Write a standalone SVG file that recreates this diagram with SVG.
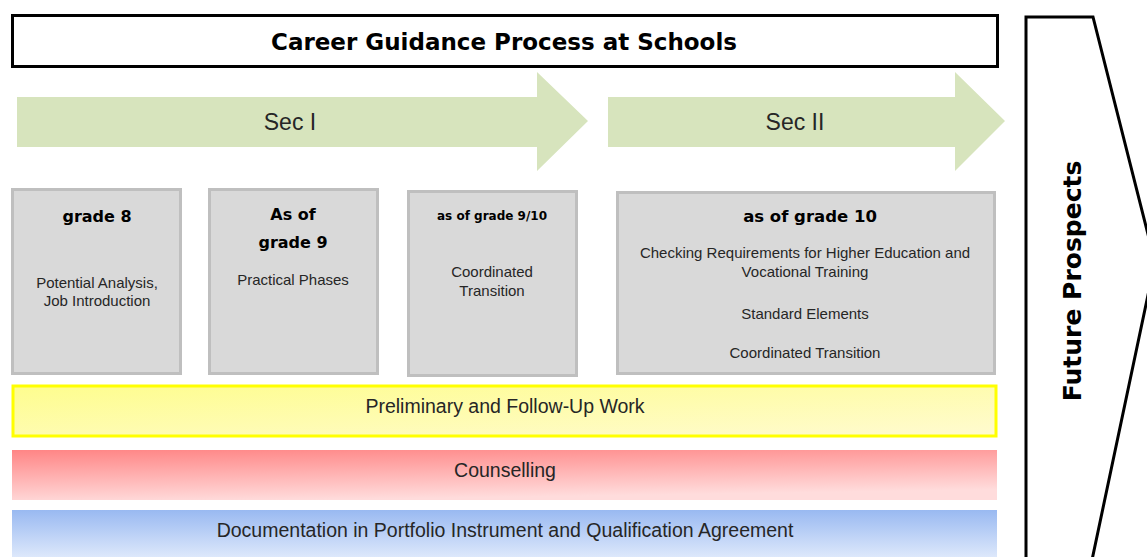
<svg xmlns="http://www.w3.org/2000/svg" width="1147" height="557" viewBox="0 0 1147 557">
<defs>
<linearGradient id="gYellow" x1="0" y1="0" x2="1" y2="1">
<stop offset="0" stop-color="#fefd8e"/>
<stop offset="1" stop-color="#fffbd0"/>
</linearGradient>
<linearGradient id="gRed" x1="0" y1="0" x2="0.3" y2="1">
<stop offset="0" stop-color="#ff8585"/>
<stop offset="1" stop-color="#ffdcdc"/>
</linearGradient>
<linearGradient id="gBlue" x1="0" y1="0" x2="0" y2="1">
<stop offset="0" stop-color="#99b9f1"/>
<stop offset="1" stop-color="#dde8fb"/>
</linearGradient>
<style>
.bold{font-family:"DejaVu Sans",Verdana,sans-serif;font-weight:bold;fill:#000;text-anchor:middle}
.reg{font-family:"Liberation Sans",Arial,sans-serif;fill:#262626;text-anchor:middle}
.box{fill:#d9d9d9;stroke:#bfbfbf;stroke-width:3}
.arrow{fill:#d7e4bd}
</style>
</defs>
<g id="title">
<rect x="12.5" y="15.5" width="985" height="51" fill="#fff" stroke="#000" stroke-width="3"/>
<text class="bold" x="504" y="50" font-size="23">Career Guidance Process at Schools</text>
</g>
<g id="future">
<polygon points="1026,17 1093,17 1155,262 1092,560 1026,560" fill="#fff" stroke="#000" stroke-width="3"/>
<text class="bold" transform="translate(1081,281) rotate(-90)" font-size="25">Future Prospects</text>
</g>
<g id="sec1">
<polygon class="arrow" points="17,97 537,97 537,72 588,121 537,171 537,147 17,147"/>
<text class="reg" x="290" y="130" font-size="23" fill="#333">Sec I</text>
</g>
<g id="sec2">
<polygon class="arrow" points="608,97 955,97 955,72 1005,121 955,171 955,147 608,147"/>
<text class="reg" x="795" y="130" font-size="23" fill="#333">Sec II</text>
</g>
<g id="grade8">
<rect class="box" x="12.5" y="189.5" width="168" height="184"/>
<text class="bold" x="97" y="222" font-size="16">grade 8</text>
<text class="reg" x="97" y="288" font-size="15">Potential Analysis,</text>
<text class="reg" x="97" y="306" font-size="15">Job Introduction</text>
</g>
<g id="grade9">
<rect class="box" x="209.5" y="189.5" width="168" height="184"/>
<text class="bold" x="293" y="220" font-size="16">As of</text>
<text class="bold" x="293" y="248" font-size="16">grade 9</text>
<text class="reg" x="293" y="285" font-size="15">Practical Phases</text>
</g>
<g id="grade910">
<rect class="box" x="408.5" y="191.5" width="168" height="184"/>
<text class="bold" x="492" y="220" font-size="12">as of grade 9/10</text>
<text class="reg" x="492" y="277" font-size="15">Coordinated</text>
<text class="reg" x="492" y="296" font-size="15">Transition</text>
</g>
<g id="grade10">
<rect class="box" x="617.5" y="192.5" width="377" height="181"/>
<text class="bold" x="810" y="222" font-size="16.5">as of grade 10</text>
<text class="reg" x="805" y="258" font-size="15">Checking Requirements for Higher Education and</text>
<text class="reg" x="805" y="277" font-size="15">Vocational Training</text>
<text class="reg" x="805" y="319" font-size="15">Standard Elements</text>
<text class="reg" x="805" y="358" font-size="15">Coordinated Transition</text>
</g>
<g id="preliminary">
<rect x="13" y="386" width="983" height="50" fill="url(#gYellow)" stroke="#ffff00" stroke-width="3"/>
<text class="reg" x="505" y="413" font-size="19.5" fill="#1a1a1a">Preliminary and Follow-Up Work</text>
</g>
<g id="counselling">
<rect x="12" y="450" width="985" height="50" fill="url(#gRed)"/>
<text class="reg" x="505" y="477" font-size="19.5" fill="#1a1a1a">Counselling</text>
</g>
<g id="documentation">
<rect x="12" y="510" width="985" height="47" fill="url(#gBlue)"/>
<text class="reg" x="505" y="537" font-size="19.5" fill="#1a1a1a">Documentation in Portfolio Instrument and Qualification Agreement</text>
</g>
<g id="connectors"></g>
</svg>
